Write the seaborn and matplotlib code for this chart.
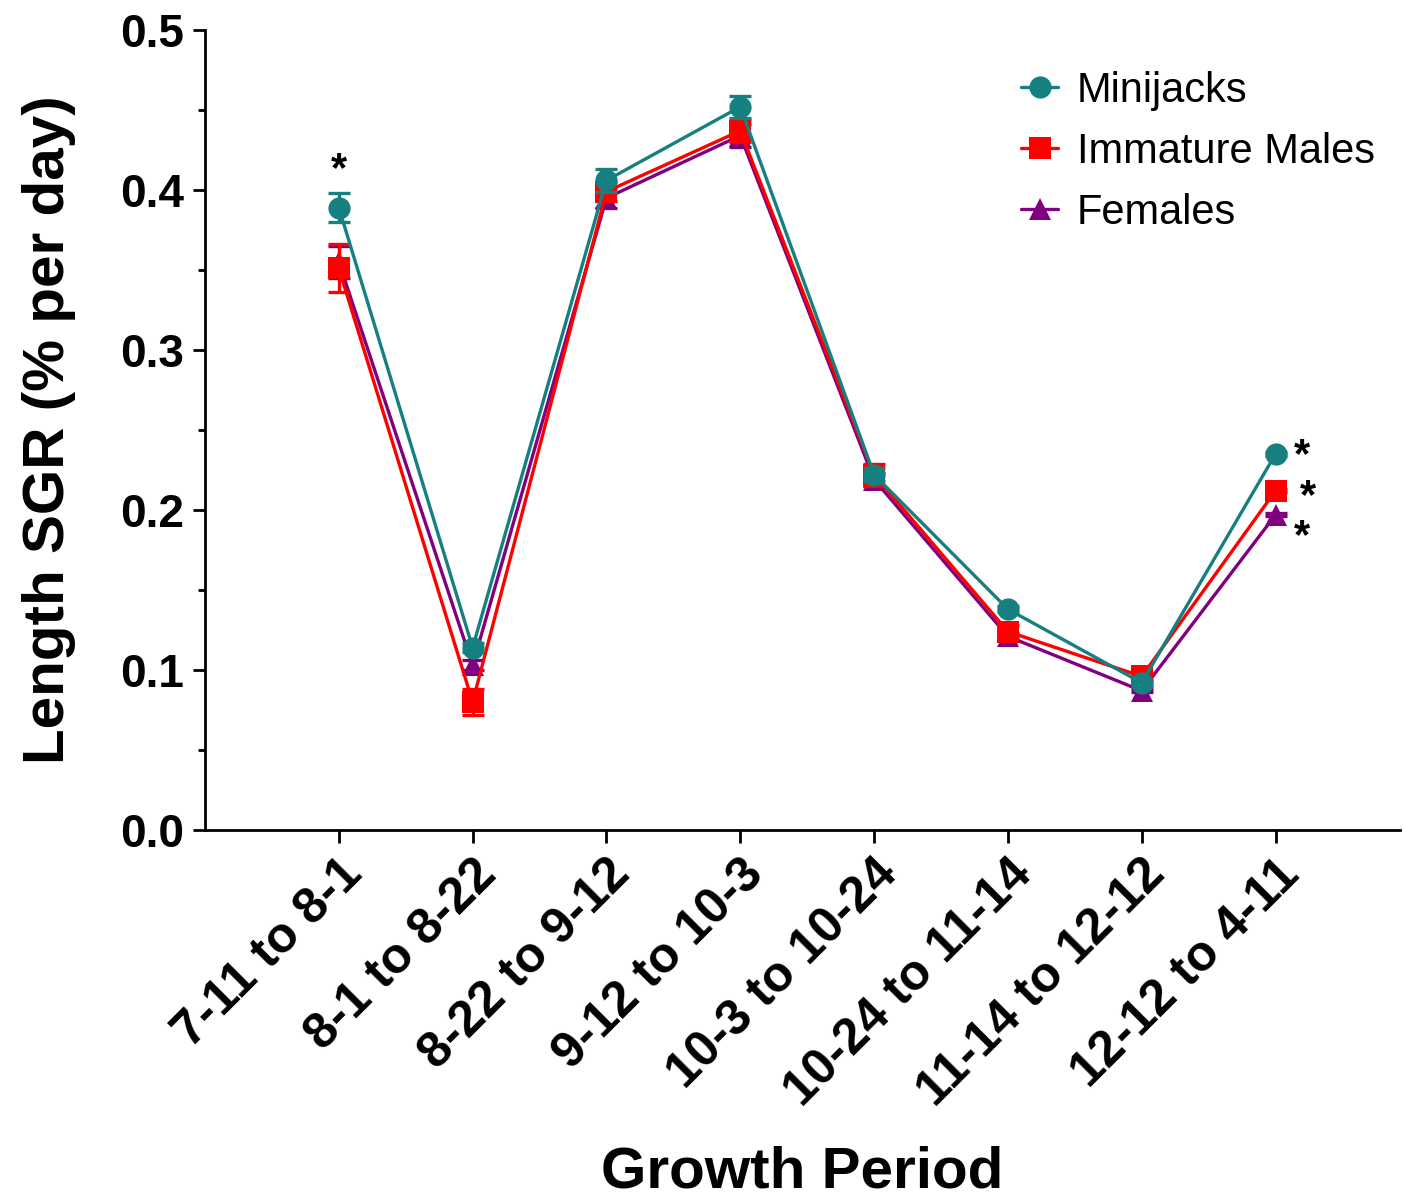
import numpy as np
import pandas as pd
import matplotlib
matplotlib.use('Agg')
import matplotlib.pyplot as plt
from matplotlib.ticker import MultipleLocator
import seaborn as sns

sns.set_style("ticks")
plt.rcParams['font.family'] = ['Liberation Sans', 'DejaVu Sans']
plt.rcParams['text.color'] = 'black'
plt.rcParams['axes.labelcolor'] = 'black'
plt.rcParams['xtick.color'] = 'black'
plt.rcParams['ytick.color'] = 'black'

# ── Data ─────────────────────────────────────────────────────
periods = ['7-11 to 8-1', '8-1 to 8-22', '8-22 to 9-12', '9-12 to 10-3',
           '10-3 to 10-24', '10-24 to 11-14', '11-14 to 12-12', '12-12 to 4-11']

minijacks     = [0.389, 0.114, 0.406, 0.452, 0.222, 0.138, 0.092, 0.235]
minijacks_err = [0.009, 0.003, 0.007, 0.007, 0.004, 0.002, 0.002, 0.001]

imm_males     = [0.351, 0.080, 0.399, 0.437, 0.222, 0.124, 0.096, 0.212]
imm_males_err = [0.015, 0.008, 0.006, 0.007, 0.007, 0.004, 0.002, 0.001]

females       = [0.355, 0.103, 0.395, 0.434, 0.219, 0.121, 0.087, 0.197]
females_err   = [0.010, 0.003, 0.006, 0.007, 0.004, 0.002, 0.001, 0.001]

groups  = ['Minijacks', 'Immature Males', 'Females']
colors  = {'Minijacks': '#168080', 'Immature Males': '#ff0000', 'Females': '#800080'}
markers = {'Minijacks': 'o', 'Immature Males': 's', 'Females': '^'}

df = pd.DataFrame({
    'x': list(range(len(periods))) * 3,
    'SGR': minijacks + imm_males + females,
    'err': minijacks_err + imm_males_err + females_err,
    'Group': sum([[g] * len(periods) for g in groups], []),
})

# ── Chart ────────────────────────────────────────────────────
fig = plt.figure(figsize=(14.03, 11.99), dpi=100)
ax = fig.add_axes([205 / 1403, 1 - 830 / 1199, (1400 - 205) / 1403, 800 / 1199])

for g, z in [('Females', 3), ('Immature Males', 4), ('Minijacks', 5)]:
    sub = df[df['Group'] == g]
    ax.errorbar(sub['x'], sub['SGR'], yerr=sub['err'], fmt='none',
                ecolor=colors[g], elinewidth=2.4, capsize=8, capthick=2.4, zorder=z)
    sns.lineplot(data=sub, x='x', y='SGR', color=colors[g], marker=markers[g],
                 markersize=16, markeredgewidth=0, linewidth=2.4, ax=ax,
                 zorder=z, label=g)

h, l = ax.get_legend_handles_labels()
order = [l.index(g) for g in groups]
ax.legend([h[i] for i in order], groups, loc='upper right', frameon=False,
          fontsize=30, handlelength=0.9, handletextpad=0.45, labelspacing=0.5,
          bbox_to_anchor=(1.0, 0.98), borderaxespad=0.2)

# significance marks
ax.text(0, 0.400, '*', ha='center', va='bottom', fontsize=30, fontweight='bold')
ax.text(7.2, 0.234, '*', ha='center', va='center', fontsize=30, fontweight='bold')
ax.text(7.24, 0.208, '*', ha='center', va='center', fontsize=30, fontweight='bold')
ax.text(7.2, 0.183, '*', ha='center', va='center', fontsize=30, fontweight='bold')

ax.set_xlim(-1, 7.93)
ax.set_ylim(0, 0.5)
ax.set_xticks(range(len(periods)))
ax.set_xticklabels(periods, rotation=45, ha='right', rotation_mode='anchor',
                   fontsize=36, fontweight='bold')
ax.yaxis.set_major_locator(MultipleLocator(0.1))
ax.yaxis.set_minor_locator(MultipleLocator(0.05))
ax.yaxis.set_major_formatter(plt.FuncFormatter(lambda v, _: f'{v:.1f}'))
for t in ax.get_yticklabels():
    t.set_fontsize(33)
    t.set_fontweight('bold')

ax.tick_params(axis='both', which='major', length=9, width=2, pad=6)
ax.tick_params(axis='y', which='minor', length=5, width=2)
for s in ['left', 'bottom']:
    ax.spines[s].set_linewidth(2)
    ax.spines[s].set_color('black')
sns.despine(ax=ax)

ax.set_xlabel('Growth Period', fontsize=42, fontweight='bold', labelpad=22)
ax.set_ylabel('Length SGR (% per day)', fontsize=42, fontweight='bold', labelpad=32)

fig.savefig('out.png', dpi=100)
plt.close()
